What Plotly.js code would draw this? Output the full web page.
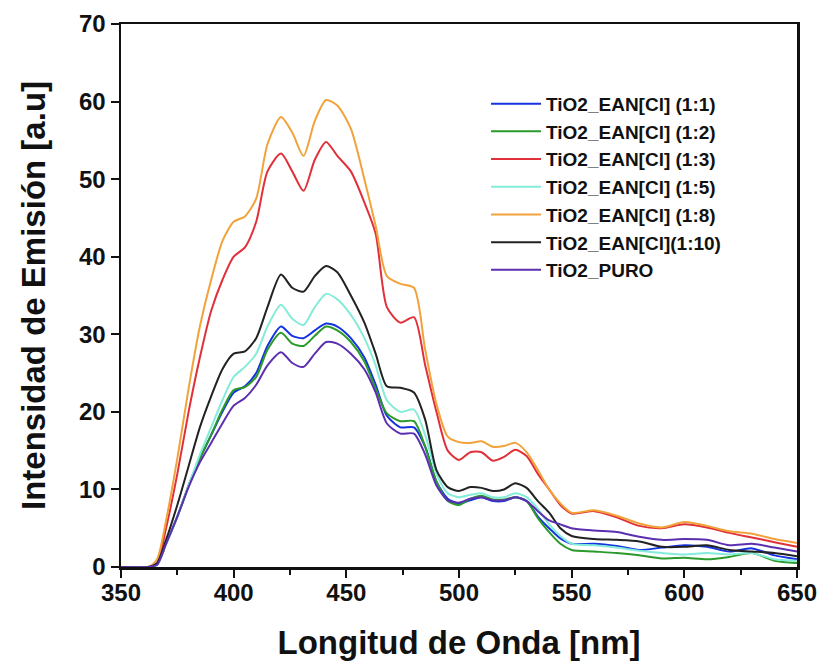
<!DOCTYPE html>
<html>
<head>
<meta charset="utf-8">
<script src="https://cdn.plot.ly/plotly-3.0.1.min.js"></script>
<style>html,body{margin:0;padding:0;background:#fff;}#chart{width:823px;height:670px;}</style>
</head>
<body>
<div id="chart"></div>
<script>
const wavelength = [350,362,366,370,375,380,385,390,395,400,405,410,415,421,426,431,436,441,446,452,458,463,468,474,480,485,490,495,500,505,510,515,520,525,530,535,540,545,550,560,570,580,590,600,610,620,630,640,650];

const s11 = [0,0,0.3,3,6.5,10.5,14,17,20,22.5,23.3,25,28.5,31,29.8,29.5,30.5,31.4,31,29.5,27,23.5,19.5,18,18,15.5,11,8.8,8.2,8.6,9,8.5,8.5,9,8.5,6.5,5,3.7,3,3,2.7,2.2,2.5,2.8,2.6,2,2.4,1.5,1];
const s12 = [0,0,0.3,3,6.5,10.5,14,17,20.3,22.8,23.2,24.5,28,30.2,28.8,28.5,29.8,31,30.5,29,26.5,23,19.8,18.8,18.8,15.5,11,8.5,8,8.8,9.2,8.7,8.7,9,8.5,6.3,4.5,3,2.2,2,1.8,1.5,1.1,1.2,1,1.3,1.8,0.8,0.5];
const s13 = [0,0,0.5,5,12,20,27,33,37,40,41.2,44.5,51,53.3,51,48.5,52.5,54.8,53,51,47,43,33.5,31.5,32.2,26,20,15,13.8,14.8,14.8,13.7,14.2,15.1,14.3,12,10,8,6.9,7.2,6.4,5.3,5,5.5,5.1,4.4,3.8,3.2,2.6];
const s15 = [0,0,0.3,3,6.5,10.5,14.5,18,21.5,24.5,25.8,27.5,31,33.8,32,31.2,33.5,35.2,34.5,32.5,29.5,26,21.5,20,20.3,17,12,9.5,9,9.3,9.5,9,9,9.5,9,7.5,5.5,4,3,2.8,2.5,2.1,1.8,1.6,1.8,1.6,1.8,1,0.8];
const s18 = [0,0,1,6,14,23,31,37,42,44.5,45.2,47.5,54.5,58,56,53,57.5,60.2,59.5,56.5,50,44,37.5,36.5,36,28,21,16.8,16.1,16,16.2,15.5,15.6,16,14.8,12.5,10,8.2,7,7.3,6.6,5.6,5.1,5.8,5.3,4.6,4.3,3.6,3.1];
const s110 = [0,0,0.5,3.5,8,13,18,22,25.5,27.5,27.8,29.5,33.5,37.7,36,35.5,37.5,38.8,38,35,31.5,27.5,23.3,23.1,22.5,19,12.5,10.3,9.8,10.3,10.2,9.8,10,10.8,10.2,8.5,7,5,4,3.6,3.5,3.3,2.6,2.6,2.8,2.2,2,1.8,1.4];
const puro = [0,0,0.3,3,6.5,10.3,13.5,16,18.5,20.8,21.8,23.5,26,27.7,26.3,25.8,27.5,29,28.8,27.5,25.5,22.5,18.5,17.2,17.2,14.5,10.5,8.6,8.3,8.8,9,8.6,8.6,9,8.5,7.2,6,5.5,5,4.7,4.5,3.9,3.5,3.6,3.5,2.8,3,2.5,2];

const seriesNames = ["TiO2_EAN[Cl] (1:1)","TiO2_EAN[Cl] (1:2)","TiO2_EAN[Cl] (1:3)","TiO2_EAN[Cl] (1:5)","TiO2_EAN[Cl] (1:8)","TiO2_EAN[Cl](1:10)","TiO2_PURO"];
const seriesValues = [s11, s12, s13, s15, s18, s110, puro];
const seriesColors = ["#1533e0","#2a9a2a","#e0303a","#84ecd9","#f2a23a","#222222","#5b2fb0"];

const xTicks = [350,400,450,500,550,600,650];
const yTicks = [0,10,20,30,40,50,60,70];

const FONT = '"Liberation Sans", Arial, sans-serif';

const traces = seriesNames.map((n, i) => ({
  x: wavelength, y: seriesValues[i], name: n, type: 'scatter', mode: 'lines',
  line: {color: seriesColors[i], width: 2, shape: 'spline', smoothing: 0.7}
}));

const layout = {
  width: 823, height: 670,
  margin: {l: 121, r: 26, t: 24, b: 103},
  paper_bgcolor: '#fff', plot_bgcolor: '#fff',
  showlegend: true,
  legend: {x: 0.54, y: 0.888, xanchor: 'left', yanchor: 'top', bgcolor: 'rgba(0,0,0,0)',
    font: {family: FONT, size: 19, color: '#111', weight: 'bold'}, itemwidth: 50, tracegroupgap: 0},
  xaxis: {
    range: [350, 650], tickvals: xTicks, ticktext: xTicks.map(String),
    showgrid: false, zeroline: false, showline: true, linecolor: '#111', linewidth: 2.5, mirror: true,
    ticks: 'outside', ticklen: 8, tickwidth: 2, tickcolor: '#111',
    minor: {ticks: 'outside', dtick: 25, tick0: 375, ticklen: 5, tickwidth: 2, tickcolor: '#111'},
    tickfont: {family: FONT, size: 24, color: '#111', weight: 'bold'},
    ticklabelstandoff: -5,
    title: {text: 'Longitud de Onda [nm]', font: {family: FONT, size: 33, color: '#111', weight: 'bold'}, standoff: 26}
  },
  yaxis: {
    range: [0, 70], tickvals: yTicks, ticktext: yTicks.map(String),
    showgrid: false, zeroline: false, showline: true, linecolor: '#111', linewidth: 2.5, mirror: true,
    ticks: 'outside', ticklen: 8, tickwidth: 2, tickcolor: '#111',
    tickfont: {family: FONT, size: 24, color: '#111', weight: 'bold'},
    title: {text: 'Intensidad de Emisión [a.u]', font: {family: FONT, size: 33, color: '#111', weight: 'bold'}, standoff: 24}
  }
};

Plotly.newPlot('chart', traces, layout, {displayModeBar: false, staticPlot: true});
</script>
</body>
</html>
